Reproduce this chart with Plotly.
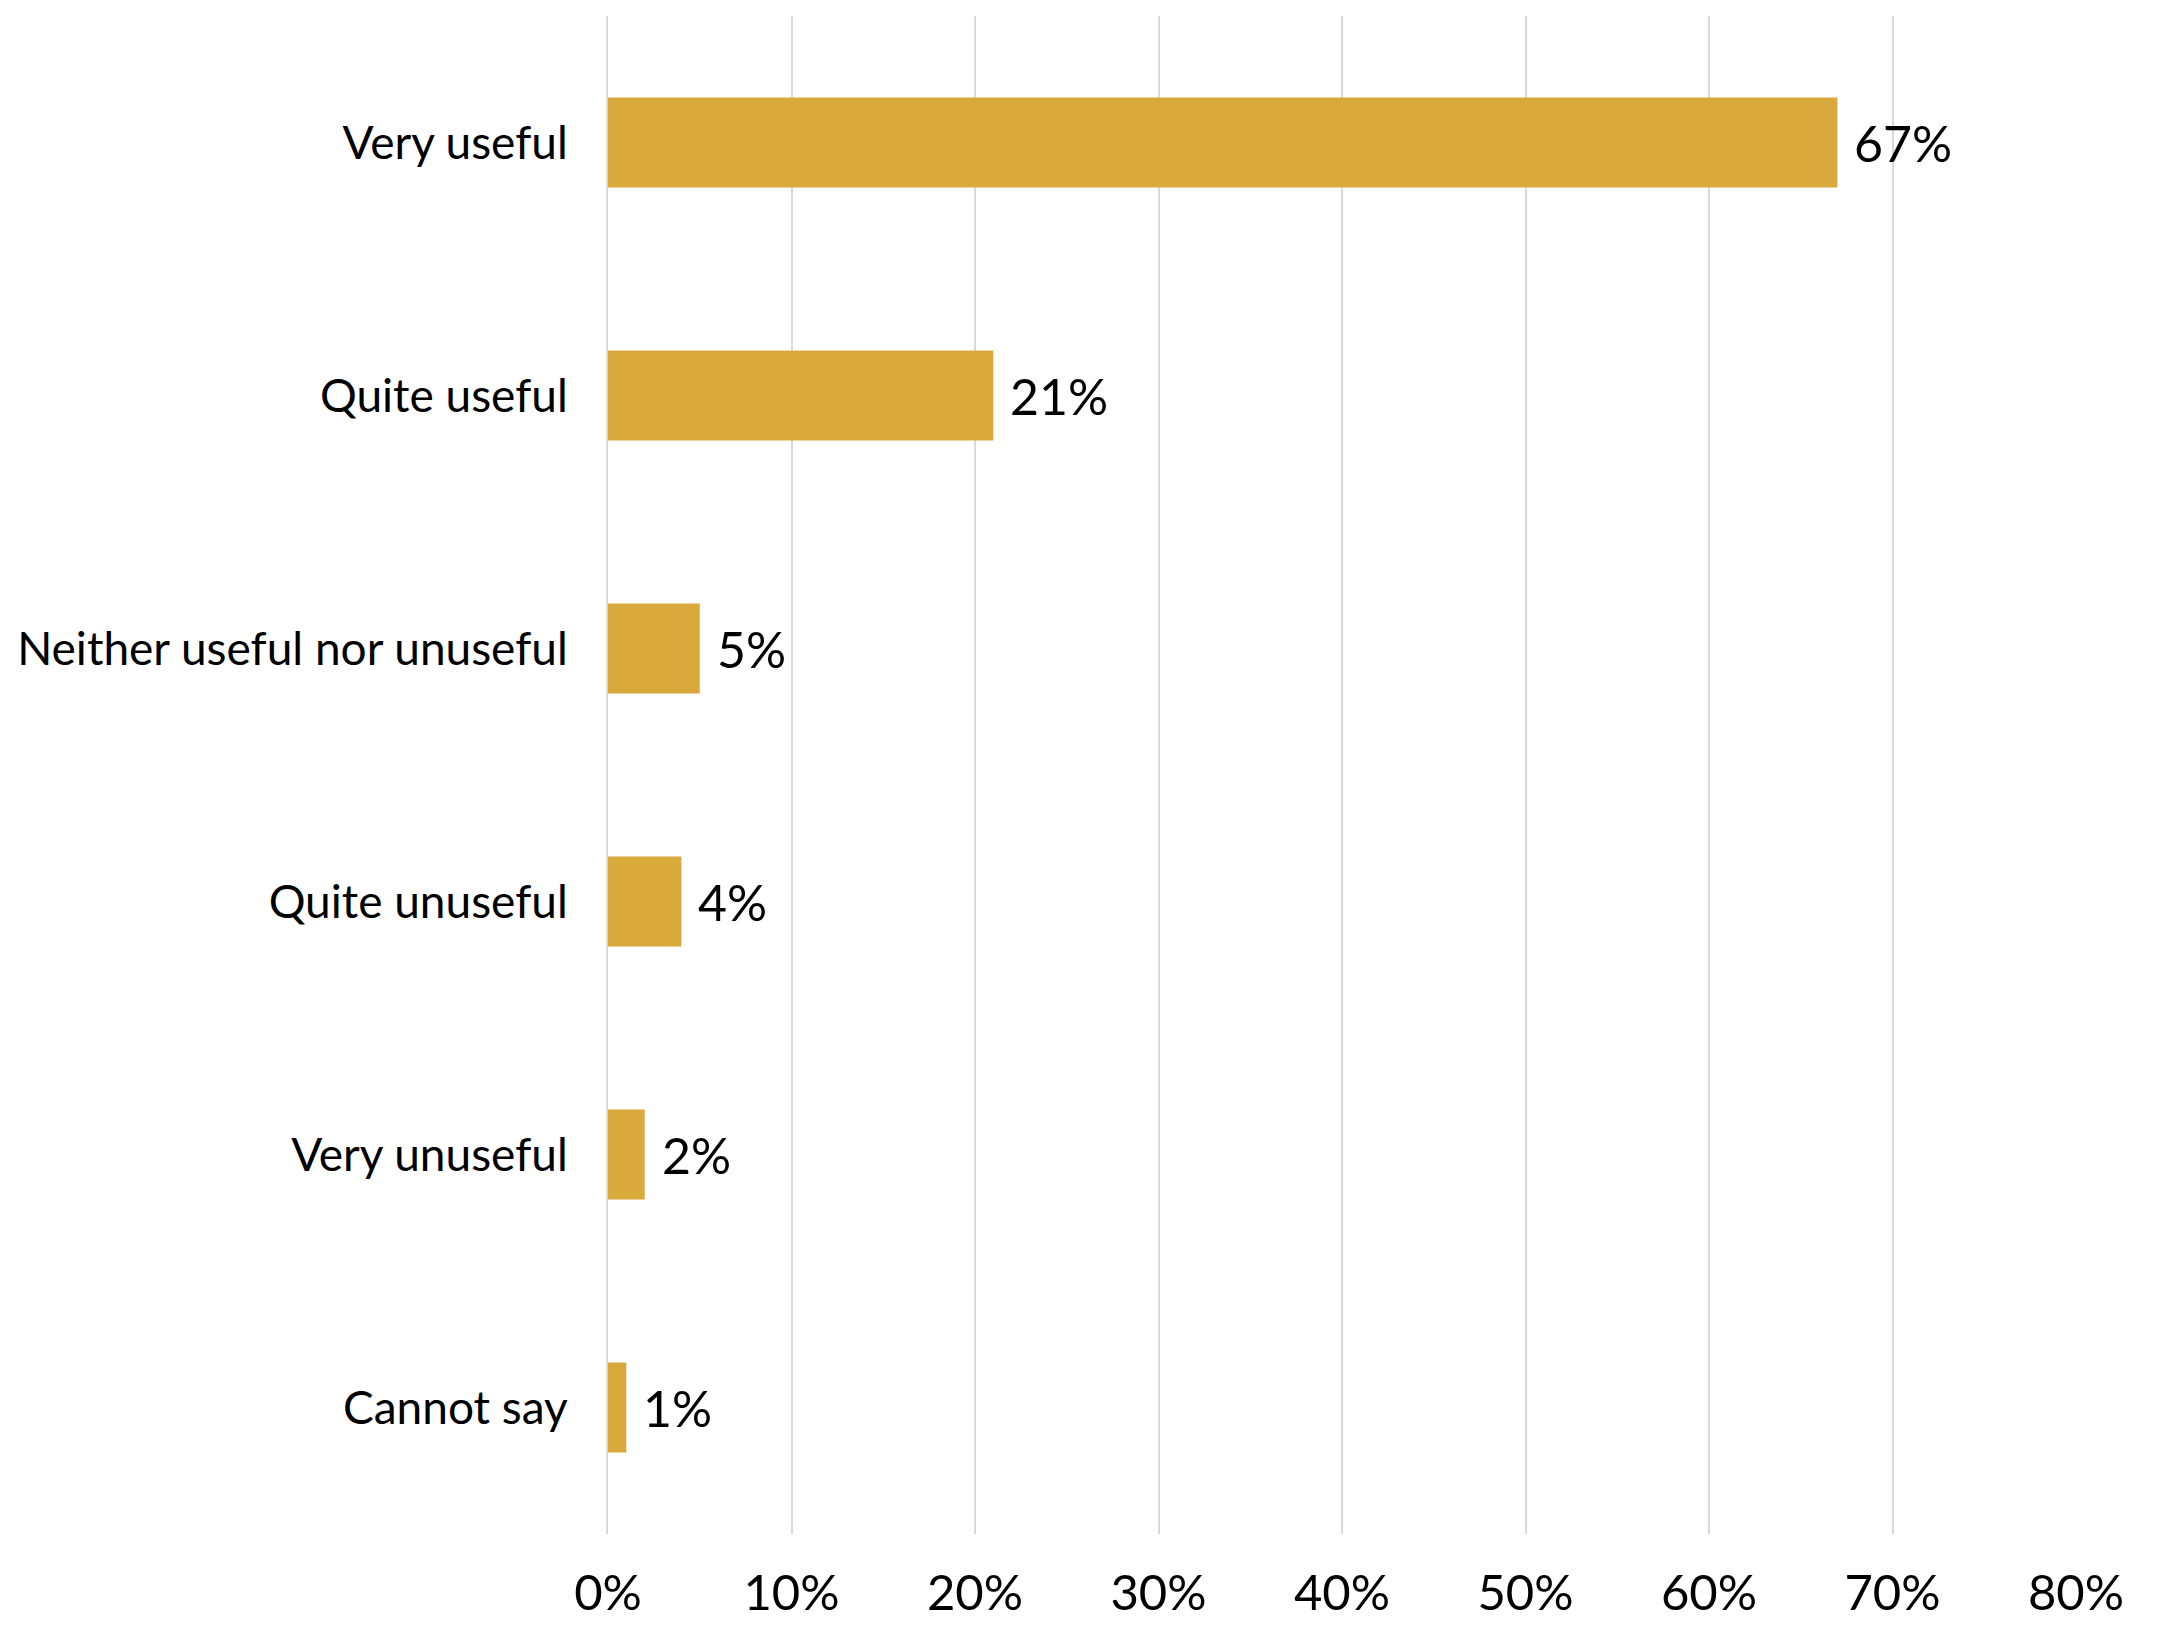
import plotly.graph_objects as go

# Survey responses: how useful respondents found the resource
categories = [
    "Very useful",
    "Quite useful",
    "Neither useful nor unuseful",
    "Quite unuseful",
    "Very unuseful",
    "Cannot say",
]
shares = [67, 21, 5, 4, 2, 1]
tick_values = [0, 10, 20, 30, 40, 50, 60, 70, 80]
tick_labels = ["0%", "10%", "20%", "30%", "40%", "50%", "60%", "70%", "80%"]

FONT = "Lato"
BAR_COLOR = "#D9A93B"
GRID_COLOR = "#D9D9D9"

fig = go.Figure(
    go.Bar(
        x=shares,
        y=categories,
        orientation="h",
        width=0.355,
        marker=dict(color=BAR_COLOR, line=dict(width=0)),
        hoverinfo="skip",
    )
)

# value labels just past the end of each bar
for cat, val in zip(categories, shares):
    fig.add_annotation(
        x=val,
        y=cat,
        xref="x",
        yref="y",
        text=f"{val}%",
        showarrow=False,
        xanchor="left",
        yanchor="middle",
        xshift=15,
        font=dict(family=FONT, size=50, color="#000000"),
    )

fig.update_layout(
    width=2167,
    height=1625,
    margin=dict(l=608, r=91, t=16, b=91),
    paper_bgcolor="#FFFFFF",
    plot_bgcolor="#FFFFFF",
    showlegend=False,
    font=dict(family=FONT, size=50, color="#000000"),
)

fig.update_xaxes(
    range=[0, 80],
    tickvals=tick_values,
    ticktext=tick_labels,
    showgrid=True,
    gridcolor=GRID_COLOR,
    gridwidth=2,
    zeroline=False,
    showline=False,
    ticks="",
    automargin=False,
    ticklabelstandoff=26,
    tickfont=dict(family=FONT, size=49, color="#000000"),
)

fig.update_yaxes(
    categoryorder="array",
    categoryarray=categories,
    range=[5.5, -0.5],
    showgrid=False,
    zeroline=False,
    showline=True,
    linecolor=GRID_COLOR,
    linewidth=2,
    ticks="",
    automargin=False,
    ticklabelstandoff=29,
    tickfont=dict(family=FONT, size=46, color="#000000"),
)

fig.write_html("out.html")
